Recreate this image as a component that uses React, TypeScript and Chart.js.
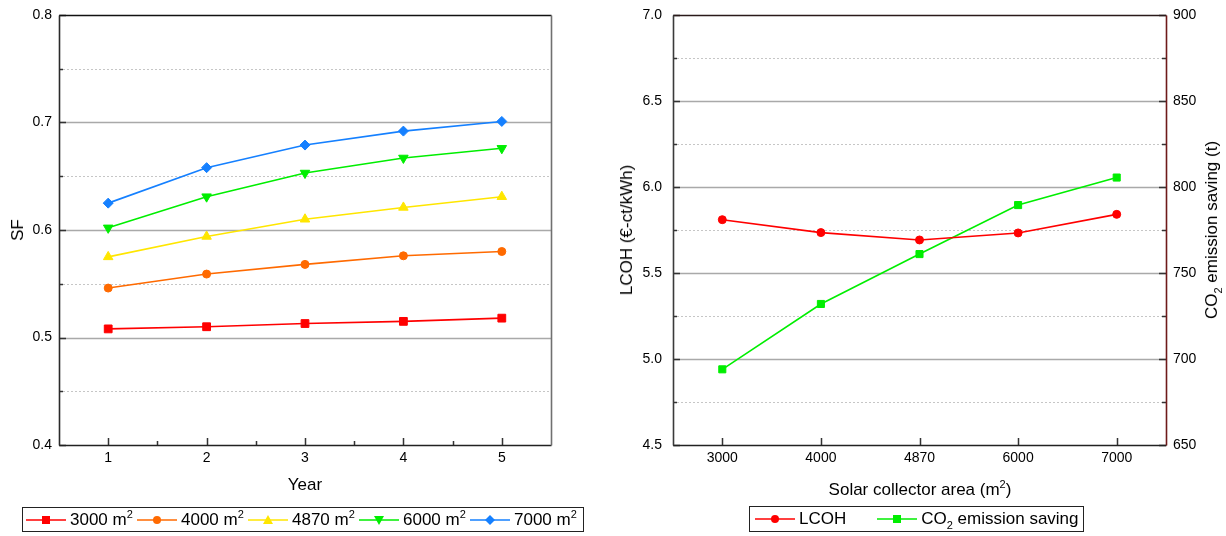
import React, { useEffect, useRef } from 'react';
import { Chart, registerables } from 'chart.js';

Chart.register(...registerables);

// ---------- DATA ----------
const yearLabels = ['1', '2', '3', '4', '5'];
const sf3000 = [0.508, 0.510, 0.513, 0.515, 0.518];
const sf4000 = [0.546, 0.559, 0.568, 0.576, 0.580];
const sf4870 = [0.575, 0.594, 0.610, 0.621, 0.631];
const sf6000 = [0.602, 0.631, 0.653, 0.667, 0.676];
const sf7000 = [0.625, 0.658, 0.679, 0.692, 0.701];
const sfSeriesNames = ['3000', '4000', '4870', '6000', '7000'];

const areaLabels = ['3000', '4000', '4870', '6000', '7000'];
const lcoh = [5.81, 5.735, 5.692, 5.733, 5.841];
const co2Saving = [694, 732, 761, 789.5, 805.5];

// ---------- STYLE ----------
const FONT = "'Liberation Sans', Arial, Helvetica, sans-serif";
const C_RED = '#ff0000';
const C_ORANGE = '#ff6a00';
const C_YELLOW = '#ffe600';
const C_GREEN = '#00ee00';
const C_BLUE = '#1580ff';

type FrameCfg = {
  minor: number;
  major: number;
  rightTicks: boolean;
  xMinor: boolean;
  borders: { left: string; right: string; top: string; bottom: string };
};

function framePlugin(name: string, cfg: FrameCfg) {
  return {
    id: 'frame_' + name,
    beforeDatasetsDraw(chart: any) {
      const ctx = chart.ctx;
      const a = chart.chartArea;
      const ys = chart.scales.y;
      const n = Math.round((ys.max - ys.min) / cfg.minor);
      const ratio = Math.round(cfg.major / cfg.minor);
      ctx.save();
      for (let i = 1; i < n; i++) {
        const v = ys.min + i * cfg.minor;
        const p = Math.round(ys.getPixelForValue(v)) + 0.5;
        ctx.beginPath();
        if (i % ratio === 0) {
          ctx.strokeStyle = '#a9a9a9';
          ctx.lineWidth = 1.5;
          ctx.setLineDash([]);
        } else {
          ctx.strokeStyle = '#c6c6c6';
          ctx.lineWidth = 1;
          ctx.setLineDash([2, 2]);
        }
        ctx.moveTo(a.left, p);
        ctx.lineTo(a.right, p);
        ctx.stroke();
      }
      ctx.restore();
    },
    afterDatasetsDraw(chart: any) {
      const ctx = chart.ctx;
      const a = chart.chartArea;
      const ys = chart.scales.y;
      const xs = chart.scales.x;
      const n = Math.round((ys.max - ys.min) / cfg.minor);
      const ratio = Math.round(cfg.major / cfg.minor);
      ctx.save();
      ctx.setLineDash([]);
      ctx.lineWidth = 1.5;
      ctx.strokeStyle = '#333';
      for (let i = 0; i <= n; i++) {
        const v = ys.min + i * cfg.minor;
        const p = Math.round(ys.getPixelForValue(v)) + 0.5;
        const len = i % ratio === 0 ? 7 : 4;
        ctx.beginPath();
        ctx.moveTo(a.left, p);
        ctx.lineTo(a.left + len, p);
        if (cfg.rightTicks) {
          ctx.moveTo(a.right, p);
          ctx.lineTo(a.right - len, p);
        }
        ctx.stroke();
      }
      const count = xs.getLabels().length;
      const pts: number[] = [];
      for (let i = 0; i < count; i++) pts.push(xs.getPixelForValue(i));
      ctx.beginPath();
      pts.forEach((p) => {
        const q = Math.round(p) + 0.5;
        ctx.moveTo(q, a.bottom);
        ctx.lineTo(q, a.bottom - 7);
      });
      if (cfg.xMinor) {
        for (let i = 0; i < pts.length - 1; i++) {
          const q = Math.round((pts[i] + pts[i + 1]) / 2) + 0.5;
          ctx.moveTo(q, a.bottom);
          ctx.lineTo(q, a.bottom - 4);
        }
      }
      ctx.stroke();
      // borders
      const L = Math.round(a.left) + 0.5;
      const R = Math.round(a.right) + 0.5;
      const T = Math.round(a.top) + 0.5;
      const B = Math.round(a.bottom) + 0.5;
      const seg = (x1: number, y1: number, x2: number, y2: number, c: string) => {
        ctx.beginPath();
        ctx.strokeStyle = c;
        ctx.lineWidth = 1.6;
        ctx.moveTo(x1, y1);
        ctx.lineTo(x2, y2);
        ctx.stroke();
      };
      seg(L, T, R, T, cfg.borders.top);
      seg(L, B, R, B, cfg.borders.bottom);
      seg(L, T, L, B, cfg.borders.left);
      seg(R, T, R, B, cfg.borders.right);
      ctx.restore();
    },
  };
}

const tickFont = { family: FONT, size: 14 };

function fixV(width: number) {
  return (s: any) => {
    s.width = width;
    s.paddingTop = 0;
    s.paddingBottom = 0;
  };
}

function lineDs(label: string, data: number[], color: string, pointStyle: any, radius: number, rotation = 0) {
  return {
    label,
    data,
    borderColor: color,
    backgroundColor: color,
    pointBackgroundColor: color,
    pointBorderColor: color,
    pointBorderWidth: 1,
    borderWidth: 1.6,
    pointStyle,
    pointRadius: radius,
    pointRotation: rotation,
    tension: 0,
  };
}

function LeftChart() {
  const ref = useRef<HTMLCanvasElement>(null);
  useEffect(() => {
    const chart = new Chart(ref.current as HTMLCanvasElement, {
      type: 'line',
      data: {
        labels: yearLabels,
        datasets: [
          lineDs(sfSeriesNames[0], sf3000, C_RED, 'rect', 5.5),
          lineDs(sfSeriesNames[1], sf4000, C_ORANGE, 'circle', 4),
          lineDs(sfSeriesNames[2], sf4870, C_YELLOW, 'triangle', 5.5),
          lineDs(sfSeriesNames[3], sf6000, C_GREEN, 'triangle', 5.5, 180),
          lineDs(sfSeriesNames[4], sf7000, C_BLUE, 'rectRot', 5),
        ] as any,
      },
      options: {
        responsive: false,
        animation: false,
        layout: { padding: { left: 0, right: 49, top: 15, bottom: 0 } },
        plugins: { legend: { display: false }, tooltip: { enabled: false } },
        scales: {
          x: {
            type: 'category',
            offset: true,
            grid: { display: false, drawTicks: false },
            border: { display: false },
            ticks: { font: tickFont, color: '#000', padding: 5 },
            afterFit: (s: any) => { s.height = 91; },
          },
          y: {
            type: 'linear',
            min: 0.4,
            max: 0.8,
            grid: { display: false, drawTicks: false },
            border: { display: false },
            ticks: {
              stepSize: 0.1,
              font: tickFont,
              color: '#000',
              padding: 7,
              callback: (v: any) => Number(v).toFixed(1),
            },
            afterFit: fixV(59),
          },
        },
      } as any,
      plugins: [
        framePlugin('left', {
          minor: 0.05,
          major: 0.1,
          rightTicks: false,
          xMinor: true,
          borders: { left: '#2a2a2a', right: '#707070', top: '#111', bottom: '#222' },
        }),
      ],
    });
    return () => chart.destroy();
  }, []);
  return <canvas ref={ref} width={600} height={536} style={{ position: 'absolute', left: 0, top: 0, width: 600, height: 536 }} />;
}

function RightChart() {
  const ref = useRef<HTMLCanvasElement>(null);
  useEffect(() => {
    const chart = new Chart(ref.current as HTMLCanvasElement, {
      type: 'line',
      data: {
        labels: areaLabels,
        datasets: [
          { ...lineDs('LCOH', lcoh, C_RED, 'circle', 4), yAxisID: 'y' },
          { ...lineDs('CO2 emission saving', co2Saving, C_GREEN, 'rect', 5), yAxisID: 'y1' },
        ] as any,
      },
      options: {
        responsive: false,
        animation: false,
        layout: { padding: { left: 0, right: 0, top: 15, bottom: 0 } },
        plugins: { legend: { display: false }, tooltip: { enabled: false } },
        scales: {
          x: {
            type: 'category',
            offset: true,
            grid: { display: false, drawTicks: false },
            border: { display: false },
            ticks: { font: tickFont, color: '#000', padding: 5 },
            afterFit: (s: any) => { s.height = 91; },
          },
          y: {
            type: 'linear',
            position: 'left',
            min: 4.5,
            max: 7.0,
            grid: { display: false, drawTicks: false },
            border: { display: false },
            ticks: {
              stepSize: 0.5,
              font: tickFont,
              color: '#000',
              padding: 11,
              callback: (v: any) => Number(v).toFixed(1),
            },
            afterFit: fixV(73),
          },
          y1: {
            type: 'linear',
            position: 'right',
            min: 650,
            max: 900,
            grid: { display: false, drawTicks: false },
            border: { display: false },
            ticks: {
              stepSize: 50,
              font: tickFont,
              color: '#000',
              padding: 7,
              callback: (v: any) => String(Math.round(Number(v))),
            },
            afterFit: fixV(60),
          },
        },
      } as any,
      plugins: [
        framePlugin('right', {
          minor: 0.25,
          major: 0.5,
          rightTicks: true,
          xMinor: false,
          borders: { left: '#3a3a3a', right: '#6e1a1a', top: '#2a1a1a', bottom: '#222' },
        }),
      ],
    });
    return () => chart.destroy();
  }, []);
  return <canvas ref={ref} width={626} height={536} style={{ position: 'absolute', left: 600, top: 0, width: 626, height: 536 }} />;
}

const Sup = ({ children }: { children: any }) => (
  <span style={{ fontSize: 11, position: 'relative', top: -7, lineHeight: 0 }}>{children}</span>
);
const Sub = ({ children }: { children: any }) => (
  <span style={{ fontSize: 11, position: 'relative', top: 5, lineHeight: 0 }}>{children}</span>
);

function Marker({ kind, color }: { kind: string; color: string }) {
  const cx = 20, cy = 10;
  let m: any = null;
  if (kind === 'rect') m = <rect x={cx - 4} y={cy - 4} width={8} height={8} fill={color} />;
  else if (kind === 'circle') m = <circle cx={cx} cy={cy} r={4} fill={color} />;
  else if (kind === 'tri') m = <polygon points={`${cx},${cy - 5} ${cx + 5},${cy + 4} ${cx - 5},${cy + 4}`} fill={color} />;
  else if (kind === 'triDown') m = <polygon points={`${cx},${cy + 5} ${cx + 5},${cy - 4} ${cx - 5},${cy - 4}`} fill={color} />;
  else if (kind === 'diamond') m = <polygon points={`${cx},${cy - 5} ${cx + 5},${cy} ${cx},${cy + 5} ${cx - 5},${cy}`} fill={color} />;
  return (
    <svg width={40} height={20} style={{ display: 'block', flex: 'none' }}>
      <line x1={0} y1={cy} x2={40} y2={cy} stroke={color} strokeWidth={1.6} />
      {m}
    </svg>
  );
}

const leftLegend = [
  { name: sfSeriesNames[0], color: C_RED, kind: 'rect' },
  { name: sfSeriesNames[1], color: C_ORANGE, kind: 'circle' },
  { name: sfSeriesNames[2], color: C_YELLOW, kind: 'tri' },
  { name: sfSeriesNames[3], color: C_GREEN, kind: 'triDown' },
  { name: sfSeriesNames[4], color: C_BLUE, kind: 'diamond' },
];

export default function App() {
  const titleStyle: any = { position: 'absolute', fontSize: 17, whiteSpace: 'nowrap', lineHeight: '20px' };
  return (
    <div style={{ position: 'absolute', left: 0, top: 0, width: 1226, height: 536, background: '#fff', fontFamily: FONT, color: '#000', overflow: 'hidden' }}>
      <LeftChart />
      <RightChart />
      {/* Left axis titles */}
      <div style={{ ...titleStyle, left: 18, top: 230, transform: 'translate(-50%, -50%) rotate(-90deg)' }}>SF</div>
      <div style={{ ...titleStyle, left: 305, top: 485, transform: 'translate(-50%, -50%)' }}>Year</div>
      {/* Right axis titles */}
      <div style={{ ...titleStyle, left: 627, top: 230, transform: 'translate(-50%, -50%) rotate(-90deg)' }}>LCOH (€-ct/kWh)</div>
      <div style={{ ...titleStyle, left: 1212, top: 230, transform: 'translate(-50%, -50%) rotate(-90deg)' }}>
        CO<Sub>2</Sub> emission saving (t)
      </div>
      <div style={{ ...titleStyle, left: 920, top: 490, transform: 'translate(-50%, -50%)' }}>
        Solar collector area (m<Sup>2</Sup>)
      </div>
      {/* Left legend */}
      <div style={{ position: 'absolute', left: 22, top: 507, width: 557, height: 23, border: '1px solid #222', display: 'flex', alignItems: 'center', paddingLeft: 3, boxSizing: 'content-box' }}>
        {leftLegend.map((it) => (
          <div key={it.name} style={{ display: 'flex', alignItems: 'center', width: 111, flex: 'none' }}>
            <Marker kind={it.kind} color={it.color} />
            <span style={{ fontSize: 17, marginLeft: 4, whiteSpace: 'nowrap' }}>
              {it.name} m<Sup>2</Sup>
            </span>
          </div>
        ))}
      </div>
      {/* Right legend */}
      <div style={{ position: 'absolute', left: 749, top: 506, width: 333, height: 24, border: '1px solid #222', display: 'flex', alignItems: 'center', boxSizing: 'content-box' }}>
        <div style={{ display: 'flex', alignItems: 'center', marginLeft: 5 }}>
          <Marker kind="circle" color={C_RED} />
          <span style={{ fontSize: 17, marginLeft: 4 }}>LCOH</span>
        </div>
        <div style={{ display: 'flex', alignItems: 'center', marginLeft: 31 }}>
          <Marker kind="rect" color={C_GREEN} />
          <span style={{ fontSize: 17, marginLeft: 4, whiteSpace: 'nowrap' }}>
            CO<Sub>2</Sub> emission saving
          </span>
        </div>
      </div>
    </div>
  );
}
